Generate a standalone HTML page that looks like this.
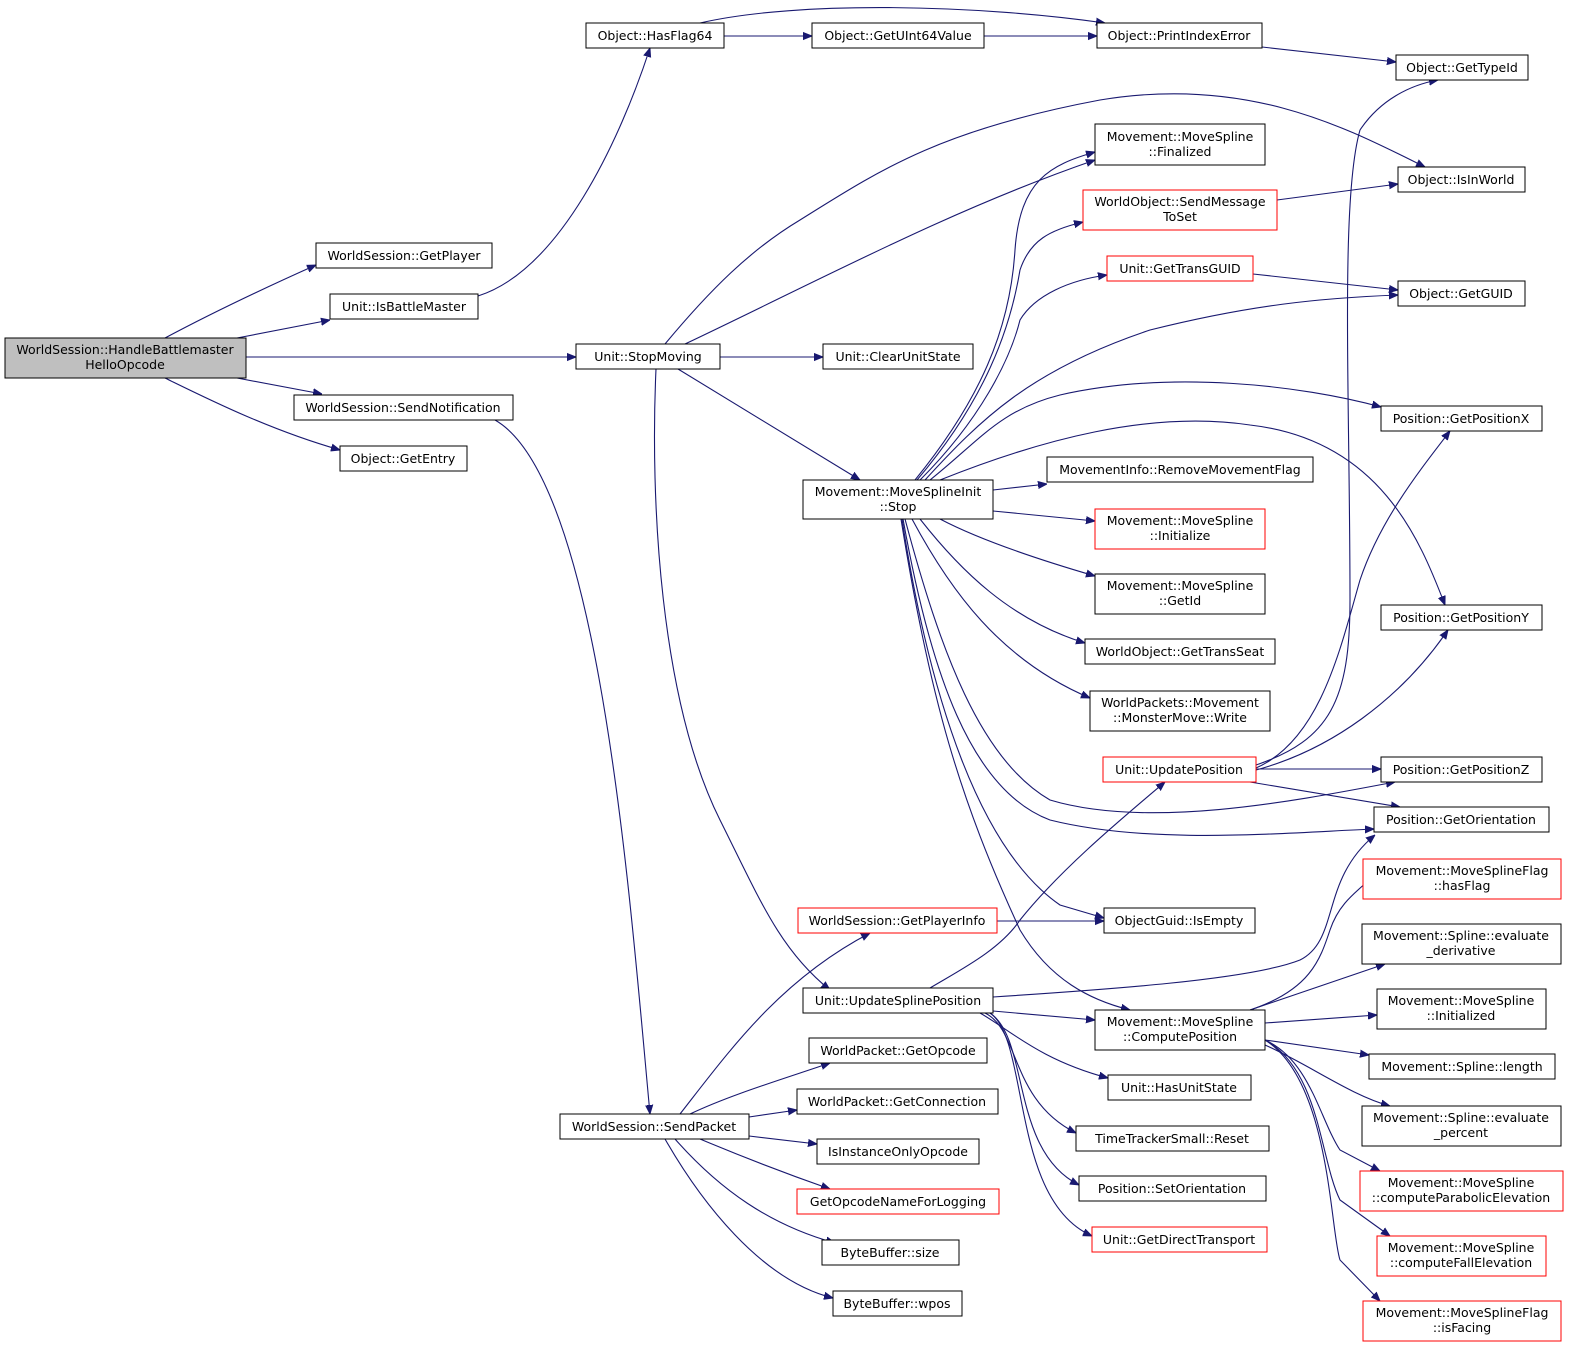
<!DOCTYPE html>
<html><head><meta charset="utf-8"><style>
html,body{margin:0;padding:0;background:#fff;}
svg{display:block;}
text{font-family:"DejaVu Sans","Liberation Sans",sans-serif;font-size:12.5px;fill:#000;}
.e{fill:none;stroke:#191970;stroke-width:1.1;marker-end:url(#a);}
.n{fill:#fff;stroke:#000;stroke-width:1;}
.r{fill:#fff;stroke:#ff0000;stroke-width:1;}
</style></head><body>
<svg width="1573" height="1352" viewBox="0 0 1573 1352" xmlns="http://www.w3.org/2000/svg">
<defs><marker id="a" viewBox="0 0 10 10" refX="10" refY="5" markerWidth="9" markerHeight="9" markerUnits="userSpaceOnUse" orient="auto"><path d="M0,1 L10,5 L0,9 z" fill="#191970" stroke="#191970"/></marker></defs>
<g>
<path class="e" d="M165,338 C210,314 260,290 316,265"/>
<path class="e" d="M237,338 L330,320"/>
<path class="e" d="M246,357 L576,357"/>
<path class="e" d="M237,378 L322,394"/>
<path class="e" d="M165,378 C210,400 270,430 340,450"/>
<path class="e" d="M478,296 C560,270 620,140 650,48"/>
<path class="e" d="M724,36 L812,36"/>
<path class="e" d="M700,23 C800,0 980,5 1105,23"/>
<path class="e" d="M984,36 L1097,36"/>
<path class="e" d="M1262,47 L1396,62"/>
<path class="e" d="M665,344 C710,290 750,250 800,220 C880,170 940,130 1100,100 C1250,75 1350,130 1425,167"/>
<path class="e" d="M685,344 C820,280 950,210 1095,160"/>
<path class="e" d="M720,357 L823,357"/>
<path class="e" d="M678,369 L860,480"/>
<path class="e" d="M656,369 C650,500 660,700 720,820 C760,900 780,950 830,990"/>
<path class="e" d="M495,420 C600,480 630,900 650,1114"/>
<path class="e" d="M915,480 C980,400 1010,330 1015,250 C1020,180 1050,165 1095,152"/>
<path class="e" d="M917,480 C985,400 1010,330 1020,270 C1030,240 1050,230 1083,222"/>
<path class="e" d="M920,480 C980,420 1010,360 1020,320 C1035,295 1070,280 1107,275"/>
<path class="e" d="M925,480 C980,420 1030,370 1150,330 C1250,305 1320,298 1398,295"/>
<path class="e" d="M930,480 C980,440 1000,410 1060,395 C1170,370 1300,385 1381,407"/>
<path class="e" d="M940,480 C1040,440 1150,410 1250,425 C1380,440 1420,540 1445,605"/>
<path class="e" d="M993,490 L1047,484"/>
<path class="e" d="M993,511 L1095,521"/>
<path class="e" d="M940,519 C980,540 1040,560 1095,576"/>
<path class="e" d="M920,519 C960,570 1010,620 1085,643"/>
<path class="e" d="M912,519 C950,590 1000,660 1090,698"/>
<path class="e" d="M905,519 C940,650 980,760 1050,800 C1150,830 1300,800 1395,782"/>
<path class="e" d="M903,519 C930,670 970,790 1050,820 C1150,845 1280,833 1374,829"/>
<path class="e" d="M902,519 C930,700 980,850 1060,905 L1104,918"/>
<path class="e" d="M901,519 C930,700 960,800 1020,930 C1050,980 1090,1000 1130,1010"/>
<path class="e" d="M1253,274 L1398,290"/>
<path class="e" d="M1277,200 L1398,184"/>
<path class="e" d="M1256,765 C1330,740 1350,700 1350,600 C1350,400 1340,200 1360,130 C1380,100 1410,85 1438,80"/>
<path class="e" d="M1256,768 C1320,740 1340,650 1360,580 C1380,520 1420,470 1450,431"/>
<path class="e" d="M1256,770 C1330,750 1400,700 1448,630"/>
<path class="e" d="M1256,769 L1381,769"/>
<path class="e" d="M1250,782 L1400,807"/>
<path class="e" d="M930,988 C960,970 1000,950 1020,920 C1060,870 1120,820 1165,782"/>
<path class="e" d="M993,997 C1100,990 1250,980 1300,960 C1340,940 1320,880 1375,835"/>
<path class="e" d="M993,1011 L1095,1020"/>
<path class="e" d="M980,1013 C1010,1030 1040,1060 1108,1078"/>
<path class="e" d="M985,1013 C1020,1030 1010,1100 1076,1133"/>
<path class="e" d="M990,1013 C1030,1040 1010,1150 1079,1185"/>
<path class="e" d="M990,1013 C1030,1040 1010,1200 1092,1236"/>
<path class="e" d="M997,921 L1104,921"/>
<path class="e" d="M680,1114 C730,1050 780,980 870,933"/>
<path class="e" d="M690,1114 C730,1095 780,1080 830,1063"/>
<path class="e" d="M749,1117 L797,1110"/>
<path class="e" d="M749,1136 L817,1144"/>
<path class="e" d="M700,1139 C750,1160 790,1175 830,1189"/>
<path class="e" d="M675,1139 C720,1190 770,1225 835,1243"/>
<path class="e" d="M665,1139 C700,1200 760,1280 833,1298"/>
<path class="e" d="M1250,1010 C1310,990 1320,960 1330,930 C1340,900 1360,890 1380,870"/>
<path class="e" d="M1250,1010 L1385,964"/>
<path class="e" d="M1265,1023 L1377,1015"/>
<path class="e" d="M1265,1040 L1369,1055"/>
<path class="e" d="M1265,1045 C1310,1065 1350,1095 1390,1106"/>
<path class="e" d="M1265,1040 C1310,1060 1320,1120 1340,1150 L1380,1171"/>
<path class="e" d="M1265,1040 C1320,1070 1320,1160 1340,1200 L1390,1236"/>
<path class="e" d="M1265,1040 C1330,1080 1330,1230 1340,1260 L1380,1301"/>
</g>
<g>
<rect x="5" y="338" width="241" height="40" fill="#bfbfbf" stroke="#000"/>
<text x="125" y="354" text-anchor="middle">WorldSession::HandleBattlemaster</text>
<text x="125" y="369" text-anchor="middle">HelloOpcode</text>

<rect class="n" x="316" y="243" width="176" height="25"/><text x="404" y="260" text-anchor="middle">WorldSession::GetPlayer</text>
<rect class="n" x="330" y="294" width="148" height="25"/><text x="404" y="311" text-anchor="middle">Unit::IsBattleMaster</text>
<rect class="n" x="294" y="395" width="219" height="25"/><text x="403" y="412" text-anchor="middle">WorldSession::SendNotification</text>
<rect class="n" x="340" y="446" width="127" height="25"/><text x="403" y="463" text-anchor="middle">Object::GetEntry</text>
<rect class="n" x="586" y="23" width="138" height="25"/><text x="655" y="40" text-anchor="middle">Object::HasFlag64</text>
<rect class="n" x="576" y="344" width="144" height="25"/><text x="648" y="361" text-anchor="middle">Unit::StopMoving</text>
<rect class="n" x="812" y="23" width="172" height="25"/><text x="898" y="40" text-anchor="middle">Object::GetUInt64Value</text>
<rect class="n" x="1097" y="23" width="165" height="25"/><text x="1179" y="40" text-anchor="middle">Object::PrintIndexError</text>
<rect class="n" x="1396" y="55" width="132" height="25"/><text x="1462" y="72" text-anchor="middle">Object::GetTypeId</text>
<rect class="n" x="1095" y="124" width="170" height="41"/><text x="1180" y="141" text-anchor="middle">Movement::MoveSpline</text><text x="1180" y="156" text-anchor="middle">::Finalized</text>
<rect class="r" x="1083" y="190" width="194" height="40"/><text x="1180" y="206" text-anchor="middle">WorldObject::SendMessage</text><text x="1180" y="221" text-anchor="middle">ToSet</text>
<rect class="n" x="1398" y="167" width="127" height="25"/><text x="1461" y="184" text-anchor="middle">Object::IsInWorld</text>
<rect class="r" x="1107" y="256" width="146" height="25"/><text x="1180" y="273" text-anchor="middle">Unit::GetTransGUID</text>
<rect class="n" x="1398" y="281" width="127" height="25"/><text x="1461" y="298" text-anchor="middle">Object::GetGUID</text>
<rect class="n" x="823" y="344" width="150" height="25"/><text x="898" y="361" text-anchor="middle">Unit::ClearUnitState</text>
<rect class="n" x="1381" y="406" width="161" height="25"/><text x="1461" y="423" text-anchor="middle">Position::GetPositionX</text>
<rect class="n" x="1047" y="457" width="266" height="25"/><text x="1180" y="474" text-anchor="middle">MovementInfo::RemoveMovementFlag</text>
<rect class="n" x="803" y="480" width="190" height="39"/><text x="898" y="496" text-anchor="middle">Movement::MoveSplineInit</text><text x="898" y="511" text-anchor="middle">::Stop</text>
<rect class="r" x="1095" y="509" width="170" height="40"/><text x="1180" y="525" text-anchor="middle">Movement::MoveSpline</text><text x="1180" y="540" text-anchor="middle">::Initialize</text>
<rect class="n" x="1095" y="574" width="170" height="40"/><text x="1180" y="590" text-anchor="middle">Movement::MoveSpline</text><text x="1180" y="605" text-anchor="middle">::GetId</text>
<rect class="n" x="1085" y="639" width="190" height="25"/><text x="1180" y="656" text-anchor="middle">WorldObject::GetTransSeat</text>
<rect class="n" x="1090" y="691" width="180" height="40"/><text x="1180" y="707" text-anchor="middle">WorldPackets::Movement</text><text x="1180" y="722" text-anchor="middle">::MonsterMove::Write</text>
<rect class="n" x="1381" y="605" width="161" height="25"/><text x="1461" y="622" text-anchor="middle">Position::GetPositionY</text>
<rect class="r" x="1103" y="757" width="153" height="25"/><text x="1179" y="774" text-anchor="middle">Unit::UpdatePosition</text>
<rect class="n" x="1381" y="757" width="161" height="25"/><text x="1461" y="774" text-anchor="middle">Position::GetPositionZ</text>
<rect class="n" x="1374" y="807" width="175" height="25"/><text x="1461" y="824" text-anchor="middle">Position::GetOrientation</text>
<rect class="r" x="1363" y="859" width="198" height="40"/><text x="1462" y="875" text-anchor="middle">Movement::MoveSplineFlag</text><text x="1462" y="890" text-anchor="middle">::hasFlag</text>
<rect class="n" x="1104" y="908" width="151" height="25"/><text x="1179" y="925" text-anchor="middle">ObjectGuid::IsEmpty</text>
<rect class="r" x="798" y="908" width="199" height="25"/><text x="897" y="925" text-anchor="middle">WorldSession::GetPlayerInfo</text>
<rect class="n" x="1362" y="924" width="199" height="40"/><text x="1461" y="940" text-anchor="middle">Movement::Spline::evaluate</text><text x="1461" y="955" text-anchor="middle">_derivative</text>
<rect class="n" x="803" y="988" width="190" height="25"/><text x="898" y="1005" text-anchor="middle">Unit::UpdateSplinePosition</text>
<rect class="n" x="1095" y="1010" width="170" height="40"/><text x="1180" y="1026" text-anchor="middle">Movement::MoveSpline</text><text x="1180" y="1041" text-anchor="middle">::ComputePosition</text>
<rect class="n" x="1377" y="989" width="169" height="40"/><text x="1461" y="1005" text-anchor="middle">Movement::MoveSpline</text><text x="1461" y="1020" text-anchor="middle">::Initialized</text>
<rect class="n" x="809" y="1038" width="178" height="25"/><text x="898" y="1055" text-anchor="middle">WorldPacket::GetOpcode</text>
<rect class="n" x="1369" y="1054" width="186" height="25"/><text x="1462" y="1071" text-anchor="middle">Movement::Spline::length</text>
<rect class="n" x="1108" y="1075" width="143" height="25"/><text x="1179" y="1092" text-anchor="middle">Unit::HasUnitState</text>
<rect class="n" x="797" y="1089" width="201" height="25"/><text x="897" y="1106" text-anchor="middle">WorldPacket::GetConnection</text>
<rect class="n" x="1362" y="1106" width="199" height="40"/><text x="1461" y="1122" text-anchor="middle">Movement::Spline::evaluate</text><text x="1461" y="1137" text-anchor="middle">_percent</text>
<rect class="n" x="560" y="1114" width="189" height="25"/><text x="654" y="1131" text-anchor="middle">WorldSession::SendPacket</text>
<rect class="n" x="817" y="1139" width="162" height="25"/><text x="898" y="1156" text-anchor="middle">IsInstanceOnlyOpcode</text>
<rect class="n" x="1076" y="1126" width="193" height="25"/><text x="1172" y="1143" text-anchor="middle">TimeTrackerSmall::Reset</text>
<rect class="r" x="1360" y="1171" width="203" height="40"/><text x="1461" y="1187" text-anchor="middle">Movement::MoveSpline</text><text x="1461" y="1202" text-anchor="middle">::computeParabolicElevation</text>
<rect class="r" x="797" y="1189" width="202" height="25"/><text x="898" y="1206" text-anchor="middle">GetOpcodeNameForLogging</text>
<rect class="n" x="1079" y="1176" width="187" height="25"/><text x="1172" y="1193" text-anchor="middle">Position::SetOrientation</text>
<rect class="r" x="1377" y="1236" width="169" height="40"/><text x="1461" y="1252" text-anchor="middle">Movement::MoveSpline</text><text x="1461" y="1267" text-anchor="middle">::computeFallElevation</text>
<rect class="n" x="822" y="1240" width="137" height="25"/><text x="890" y="1257" text-anchor="middle">ByteBuffer::size</text>
<rect class="r" x="1092" y="1227" width="175" height="25"/><text x="1179" y="1244" text-anchor="middle">Unit::GetDirectTransport</text>
<rect class="n" x="833" y="1291" width="129" height="25"/><text x="897" y="1308" text-anchor="middle">ByteBuffer::wpos</text>
<rect class="r" x="1363" y="1301" width="198" height="40"/><text x="1462" y="1317" text-anchor="middle">Movement::MoveSplineFlag</text><text x="1462" y="1332" text-anchor="middle">::isFacing</text>
</g>
</svg>
</body></html>
